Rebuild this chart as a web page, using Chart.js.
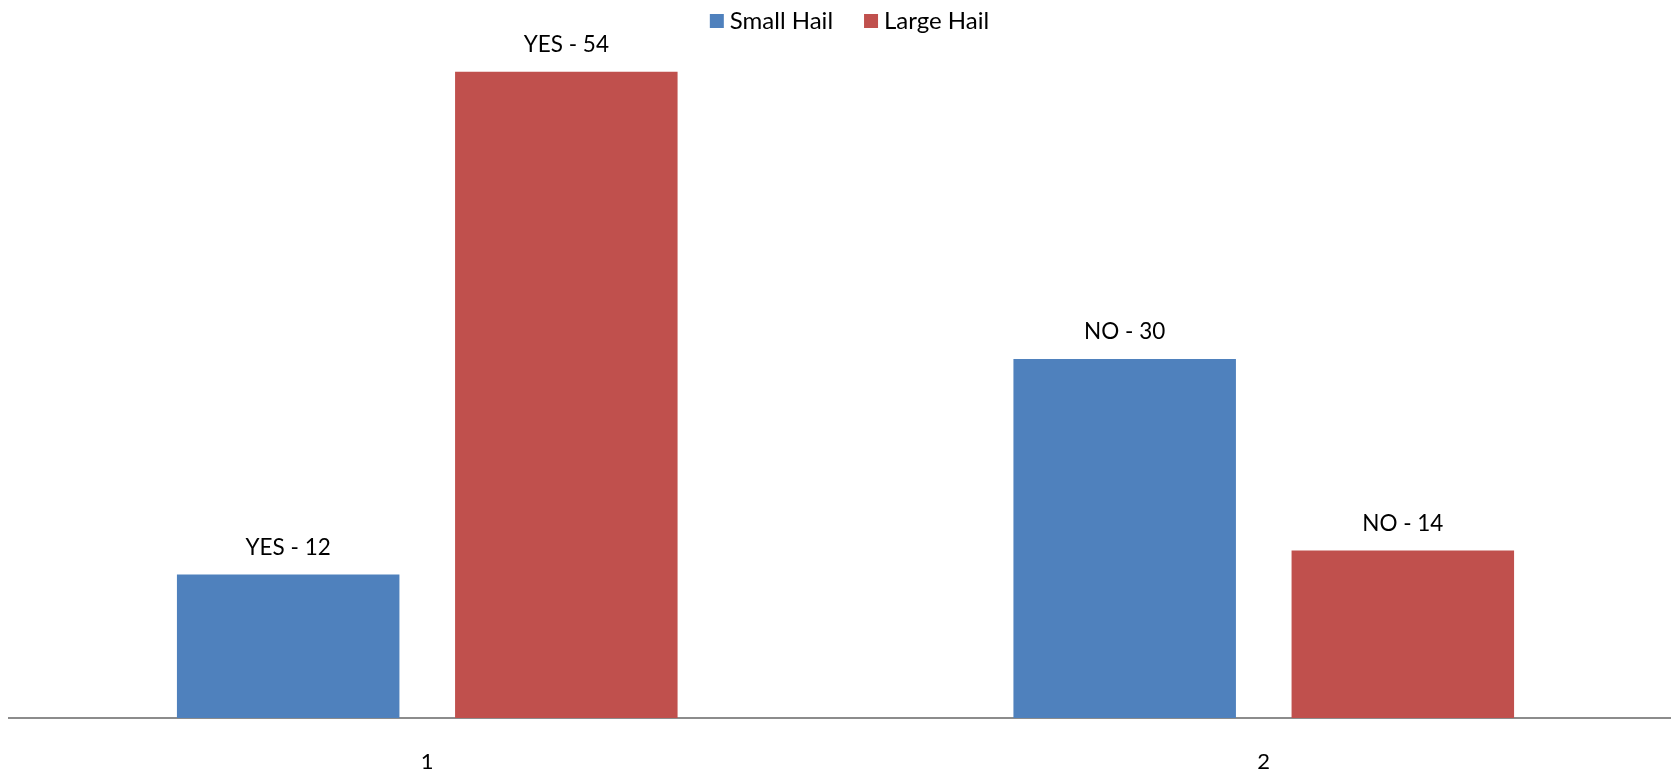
<!DOCTYPE html>
<html lang="en">
<head>
    <meta charset="UTF-8">
    <title>Hail Size Chart</title>
    <!-- Chart.js library -->
    <script src="https://cdn.jsdelivr.net/npm/chart.js"></script>
    <style>
        html, body {
            margin: 0;
            padding: 0;
            background: #ffffff;
            overflow: hidden;
        }
        /* Canvas is a little wider than the window so the axis runs off the right edge */
        #hailChart {
            display: block;
        }
    </style>
</head>
<body>
    <canvas id="hailChart" width="1682" height="773"></canvas>

    <script>
        // Chart data
        const categories = ['1', '2'];
        const answerTags = ['YES', 'NO'];
        const smallHail = [12, 30];
        const largeHail = [54, 14];

        const fontFamily = 'Lato, "Open Sans", sans-serif';

        // Draws "TAG - value" above every bar
        const barLabels = {
            id: 'barLabels',
            afterDatasetsDraw(chart) {
                const ctx = chart.ctx;
                ctx.save();
                ctx.font = '22.5px ' + fontFamily;
                ctx.fillStyle = '#000000';
                ctx.textAlign = 'center';
                ctx.textBaseline = 'middle';
                chart.data.datasets.forEach((ds, i) => {
                    chart.getDatasetMeta(i).data.forEach((bar, j) => {
                        ctx.fillText(answerTags[j] + ' - ' + ds.data[j], bar.x, bar.y - 27);
                    });
                });
                ctx.restore();
            }
        };

        // Small legend centred at the top, drawn over the plot area
        const topLegend = {
            id: 'topLegend',
            afterDraw(chart) {
                const ctx = chart.ctx;
                ctx.save();
                ctx.font = '24px ' + fontFamily;
                ctx.textBaseline = 'middle';
                const box = 14, gap = 6, spacing = 31;
                const items = chart.data.datasets.map(ds => ({
                    label: ds.label,
                    color: ds.backgroundColor,
                    w: box + gap + ctx.measureText(ds.label).width
                }));
                const total = items.reduce((s, it) => s + it.w, 0) + spacing * (items.length - 1);
                let x = 1671 / 2 - total / 2 + 14;
                const y = 21;
                items.forEach(it => {
                    ctx.fillStyle = it.color;
                    ctx.fillRect(x, y - box / 2, box, box);
                    ctx.fillStyle = '#000000';
                    ctx.fillText(it.label, x + box + gap, y);
                    x += it.w + spacing;
                });
                ctx.restore();
            }
        };

        const ctx = document.getElementById('hailChart').getContext('2d');
        const hailChart = new Chart(ctx, {
            type: 'bar',
            data: {
                labels: categories,
                datasets: [
                    {
                        label: 'Small Hail',
                        data: smallHail,
                        backgroundColor: '#4F81BD',
                        categoryPercentage: 0.665,
                        barPercentage: 0.8
                    },
                    {
                        label: 'Large Hail',
                        data: largeHail,
                        backgroundColor: '#C0504D',
                        categoryPercentage: 0.665,
                        barPercentage: 0.8
                    }
                ]
            },
            options: {
                responsive: false,
                maintainAspectRatio: false,
                animation: false,
                layout: {
                    padding: { left: 9, right: 0, top: 0, bottom: 0 }
                },
                plugins: {
                    legend: { display: false },
                    tooltip: { enabled: false }
                },
                scales: {
                    y: {
                        display: false,
                        min: 0,
                        max: 60
                    },
                    x: {
                        grid: { display: false, drawTicks: false },
                        border: { display: true, color: '#8c8c8c', width: 2 },
                        ticks: {
                            color: '#000000',
                            padding: 31,
                            font: { family: fontFamily, size: 22 }
                        },
                        // keep the axis band tight so the baseline sits low
                        afterFit(scale) {
                            scale.height = 55;
                        }
                    }
                }
            },
            plugins: [barLabels, topLegend]
        });
    </script>
</body>
</html>
